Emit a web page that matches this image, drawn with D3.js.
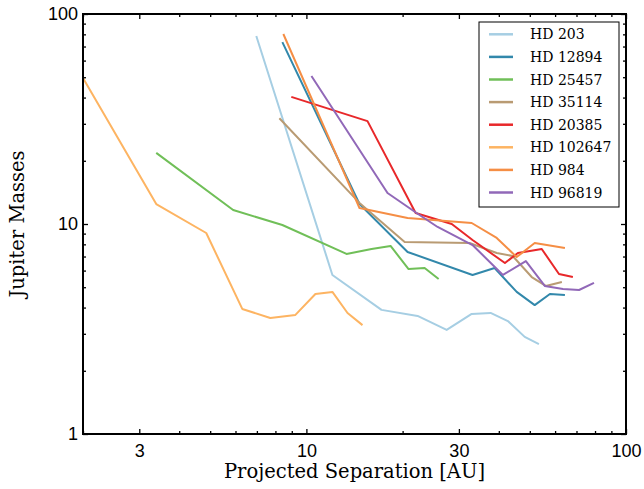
<!DOCTYPE html>
<html>
<head>
<meta charset="utf-8">
<script src="https://cdn.jsdelivr.net/npm/d3@7"></script>
<style>
  body { margin: 0; background: #fff; }
  svg { display: block; font-family: "DejaVu Serif", serif; }
</style>
</head>
<body>
<svg id="chart" width="644" height="489"></svg>
<script>
// star names, in legend order
var stars = ["HD 203", "HD 12894", "HD 25457", "HD 35114", "HD 20385", "HD 102647", "HD 984", "HD 96819"];
var colors = ["#a6cee3", "#3288ab", "#70bf58", "#b99b73", "#e8282a", "#fdb462", "#f58e45", "#9168b8"];

// separation [AU] and mass [Mjup] for each star
var sepHD203 = [6.97, 12.06, 17.18, 22.28, 27.47, 32.9, 37.7, 42.7, 48.2, 53.4];
var massHD203 = [78.6, 5.72, 3.90, 3.65, 3.13, 3.73, 3.77, 3.45, 2.90, 2.68];

var sepHD12894 = [8.41, 14.66, 20.73, 33.1, 38.8, 41.2, 45.5, 51.8, 57.8, 64.4];
var massHD12894 = [73.5, 12.45, 7.36, 5.72, 6.17, 5.59, 4.75, 4.11, 4.64, 4.59];

var sepHD25457 = [3.39, 5.90, 8.41, 13.35, 15.99, 18.34, 20.88, 23.44, 25.93];
var massHD25457 = [21.8, 11.66, 9.89, 7.20, 7.60, 7.86, 6.10, 6.17, 5.47];

var sepHD35114 = [8.23, 14.66, 20.3, 32.4, 39.4, 44.2, 50.7, 56.1, 63.0];
var massHD35114 = [31.9, 12.6, 8.21, 8.12, 7.28, 7.04, 5.59, 5.07, 5.29];

var sepHD20385 = [8.97, 15.53, 21.97, 28.5, 33.1, 41.8, 45.9, 54.5, 61.7, 68.2];
var massHD20385 = [40.3, 30.9, 11.28, 10.0, 8.39, 6.52, 7.28, 7.60, 5.78, 5.59];

var sepHD102647 = [2.0, 3.39, 4.86, 6.30, 7.71, 9.24, 10.67, 12.06, 13.45, 14.98];
var massHD102647 = [49.6, 12.45, 9.06, 3.94, 3.57, 3.69, 4.64, 4.75, 3.77, 3.30];

var sepHD984 = [8.47, 14.66, 20.73, 32.9, 39.4, 45.5, 51.8, 64.4];
var massHD984 = [80.3, 11.92, 10.68, 10.11, 8.58, 6.96, 8.12, 7.69];

var sepHD96819 = [10.37, 17.94, 22.12, 25.74, 33.1, 41.2, 48.6, 55.7, 63.5, 71.3, 79.4];
var massHD96819 = [50.7, 14.05, 11.28, 9.68, 7.94, 5.72, 6.66, 5.07, 4.90, 4.85, 5.24];

// axis ticks
var xMajor = [3, 10, 30, 100];
var xMinor = [2, 4, 5, 6, 7, 8, 9, 20, 40, 50, 60, 70, 80, 90];
var yMajor = [1, 10, 100];
var yMinor = [2, 3, 4, 5, 6, 7, 8, 9, 20, 30, 40, 50, 60, 70, 80, 90];

var seps = [sepHD203, sepHD12894, sepHD25457, sepHD35114, sepHD20385, sepHD102647, sepHD984, sepHD96819];
var masses = [massHD203, massHD12894, massHD25457, massHD35114, massHD20385, massHD102647, massHD984, massHD96819];

var series = stars.map(function (name, i) {
    return {
        name: name,
        color: colors[i],
        points: seps[i].map(function (s, j) { return [s, masses[i][j]]; })
    };
});

var margin = {left: 83, right: 18, top: 14, bottom: 55};
var width = 644, height = 489;

var svg = d3.select("#chart");

var x = d3.scaleLog().domain([2, 100]).range([margin.left, width - margin.right]);
var y = d3.scaleLog().domain([1, 100]).range([height - margin.bottom, margin.top]);

var line = d3.line()
    .x(function (d) { return x(d[0]); })
    .y(function (d) { return y(d[1]); });

svg.append("defs").append("clipPath").attr("id", "clip")
    .append("rect")
    .attr("x", x.range()[0]).attr("y", y.range()[1])
    .attr("width", x.range()[1] - x.range()[0])
    .attr("height", y.range()[0] - y.range()[1]);

// data lines
svg.append("g").attr("clip-path", "url(#clip)")
    .selectAll("path.star")
    .data(series)
    .enter().append("path")
    .attr("class", "star")
    .attr("d", function (d) { return line(d.points); })
    .attr("fill", "none")
    .attr("stroke", function (d) { return d.color; })
    .attr("stroke-width", 2)
    .attr("stroke-linejoin", "round");

// axes: ticks point inwards on all four sides
function fmt(d) { return d3.format("d")(d); }

function addAxis(axis, transform, values, size, labels) {
    var g = svg.append("g")
        .attr("transform", transform)
        .call(axis.tickValues(values).tickSizeInner(size).tickSizeOuter(0)
            .tickPadding(labels ? 10 : 0)
            .tickFormat(labels ? fmt : ""));
    g.select(".domain").remove();
    g.selectAll(".tick line").attr("stroke", "#000").attr("stroke-width", 1.3);
    g.selectAll(".tick text").attr("fill", "#000").style("font-size", "18px");
    return g;
}

var bottomY = "translate(0," + y.range()[0] + ")";
var topY = "translate(0," + y.range()[1] + ")";
var leftX = "translate(" + x.range()[0] + ",0)";
var rightX = "translate(" + x.range()[1] + ",0)";

addAxis(d3.axisBottom(x), bottomY, xMajor, -5, true);
addAxis(d3.axisBottom(x), bottomY, xMinor, -3, false);
addAxis(d3.axisTop(x), topY, xMajor, -5, false);
addAxis(d3.axisTop(x), topY, xMinor, -3, false);
addAxis(d3.axisLeft(y), leftX, yMajor, -5, true).selectAll(".tick text").attr("x", -5);
addAxis(d3.axisLeft(y), leftX, yMinor, -3, false);
addAxis(d3.axisRight(y), rightX, yMajor, -5, false);
addAxis(d3.axisRight(y), rightX, yMinor, -3, false);

// frame
svg.append("rect")
    .attr("x", x.range()[0]).attr("y", y.range()[1])
    .attr("width", x.range()[1] - x.range()[0])
    .attr("height", y.range()[0] - y.range()[1])
    .attr("fill", "none")
    .attr("stroke", "#000")
    .attr("stroke-width", 2);

// axis titles
svg.append("text")
    .attr("x", (x.range()[0] + x.range()[1]) / 2 + 0)
    .attr("y", 478)
    .attr("text-anchor", "middle")
    .style("font-size", "19.5px")
    .text("Projected Separation [AU]");

svg.append("text")
    .attr("transform", "translate(24," + ((y.range()[0] + y.range()[1]) / 2) + ")rotate(-90)")
    .attr("text-anchor", "middle")
    .style("font-size", "19.5px")
    .text("Jupiter Masses");

// legend
var legend = svg.append("g").attr("transform", "translate(479,22)");
legend.append("rect")
    .attr("width", 140).attr("height", 185)
    .attr("fill", "#fff")
    .attr("stroke", "#000")
    .attr("stroke-width", 1);

var rows = legend.selectAll("g.row")
    .data(series)
    .enter().append("g")
    .attr("class", "row")
    .attr("transform", function (d, i) { return "translate(0," + (12.3 + i * 22.6) + ")"; });

rows.append("line")
    .attr("x1", 10).attr("x2", 34)
    .attr("stroke", function (d) { return d.color; })
    .attr("stroke-width", 2.5);

rows.append("text")
    .attr("x", 51)
    .attr("dy", "0.36em")
    .style("font-size", "14px")
    .text(function (d) { return d.name; });
</script>
</body>
</html>
